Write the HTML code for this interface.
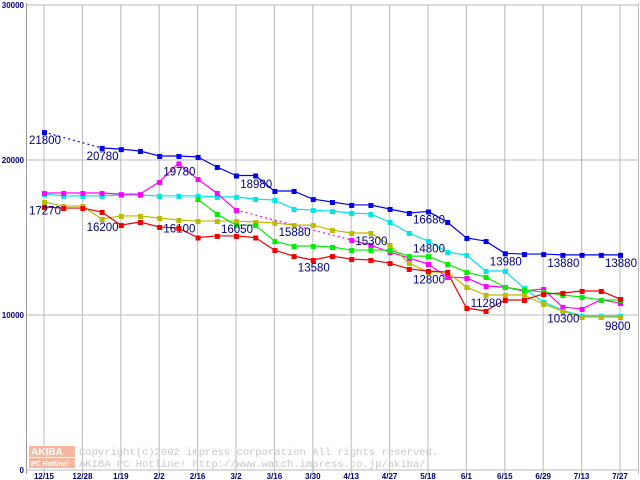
<!DOCTYPE html>
<html><head><meta charset="utf-8"><style>
body{margin:0;background:#fff;width:640px;height:480px;overflow:hidden}
svg{display:block;font-family:"Liberation Sans",sans-serif}
</style></head><body>
<svg id="chart" width="640" height="480">
<g id="grid"></g>
<g id="wm">
<rect x="29" y="446" width="46" height="11" fill="#f4b8a0"/>
<rect x="29" y="458" width="46" height="10" fill="#f4b8a0"/>
<text x="31" y="455" font-size="10" font-weight="bold" fill="#fff">AKIBA</text>
<text x="31" y="466" font-size="7" font-weight="bold" fill="#fff">PC Hotline!</text>
<text x="79" y="455" font-size="10.5" font-family="Liberation Mono,monospace" fill="#c8c8c8">Copyright(c)2002 impress corporation All rights reserved.</text>
<text x="79" y="467" font-size="10.5" font-family="Liberation Mono,monospace" fill="#c8c8c8">AKIBA PC Hotline!  http://www.watch.impress.co.jp/akiba/</text>
</g>
<g id="series"></g>
<g id="labels"></g>
<g id="axes"></g>
</svg>
<script>
const xLabels=["12/15","12/28","1/19","2/2","2/16","3/2","3/16","3/30","4/13","4/27","5/18","6/1","6/15","6/29","7/13","7/27"];
const yTicks=[0,10000,20000,30000];
const N=31;
const blue=[21800,null,null,20780,20700,20580,20260,20260,20200,19550,19000,19000,18000,18000,17480,17290,17100,17100,16840,16580,16680,16000,14970,14770,13980,13930,13930,13880,13880,13880,13880];
const cyan=[17800,17680,17680,17680,17740,17740,17680,17680,17680,17620,17620,17480,17420,16840,16770,16700,16580,16520,16000,15290,14770,14060,13870,12840,12840,11740,10840,10320,9940,9940,9940];
const magenta=[17870,17870,17870,17870,17800,17800,18580,19780,18770,17870,16770,null,null,null,null,null,14840,14520,14060,13680,13290,12450,12390,11870,11800,11550,11680,10520,10390,10970,10770];
const green=[null,null,null,null,null,null,null,null,17480,16520,15800,15800,14770,14450,14450,14390,14190,14190,14190,13800,13800,13290,12770,12450,11800,11610,11480,11290,11160,10970,10970];
const olive=[17290,17030,17030,16190,16390,16390,16260,16130,16060,16060,16060,16000,15940,15800,15800,15480,15290,15290,14520,13350,12770,12770,11800,11290,11290,11290,10710,10260,9870,9870,9870];
const red=[16970,16900,16900,16650,15800,16000,15680,15610,15000,15100,15100,15000,14190,13800,13550,13800,13610,13550,13350,12970,12840,12770,10450,10260,10970,10970,11350,11420,11550,11550,11030];
const labelVals=[21800,20780,19780,18980,17270,16200,16100,16050,15880,13580,15300,16680,14800,12800,13980,11280,13880,13880,10300,9800];
const labelIdx=[0,3,7,11,0,3,7,10,13,14,17,20,20,20,24,23,27,30,27,30];
const X=i=>44+i*19.2, Y=v=>470-v*0.0155;
const NS="http://www.w3.org/2000/svg";
function mk(t,a,p){const e=document.createElementNS(NS,t);for(const k in a)e.setAttribute(k,a[k]);p.appendChild(e);return e;}
const grid=document.getElementById('grid'),axes=document.getElementById('axes');
yTicks.forEach(v=>{const l=mk('line',{x1:26,x2:638,y1:Y(v),y2:Y(v),stroke:'#bbb'},grid);


const t=mk('text',{x:24,y:Y(v)+3,'font-size':8,'font-weight':'bold','text-anchor':'end',fill:'#000080'},axes);t.textContent=v;

});
xLabels.forEach((s,i)=>{const x=X(i*2);const l=mk('line',{x1:x,x2:x,y1:5,y2:474,stroke:'#bbb'},grid);


const t=mk('text',{x:x,y:479,'font-size':8,'font-weight':'bold','text-anchor':'middle',fill:'#000080'},axes);t.textContent=s;

});
const ax=mk('line',{x1:26.5,x2:26.5,y1:3,y2:474,stroke:'#999'},axes);


mk('line',{x1:638.5,x2:638.5,y1:3,y2:474,stroke:'#bbb'},grid);
const sg=document.getElementById('series');
[[blue,'#0000ee','series-blue'],[cyan,'#00e5e5','series-cyan'],[magenta,'#ff00ff','series-magenta'],[olive,'#bbbb00','series-olive'],[green,'#00ee00','series-green'],[red,'#ee0000','series-red']].forEach(([d,c,n])=>{
const g=mk('g',{},sg);


let prev=-1;
d.forEach((v,i)=>{if(v==null)return;
if(prev>=0){mk('line',{x1:X(prev),y1:Y(d[prev]),x2:X(i),y2:Y(v),stroke:c,'stroke-width':1.2,'stroke-dasharray':(i-prev>1?'2,3':'none')},g);}
prev=i;});
d.forEach((v,i)=>{if(v==null)return;const r=mk('rect',{x:X(i)-2,y:Y(v)-2,width:5,height:5,fill:c},g);

});
});
const lg=document.getElementById('labels');
labelVals.forEach((v,k)=>{const t=mk('text',{x:X(labelIdx[k])-15,y:Y(v)+12,'font-size':11.5,fill:'#000080'},lg);t.textContent=v;

});
</script>
</body></html>
